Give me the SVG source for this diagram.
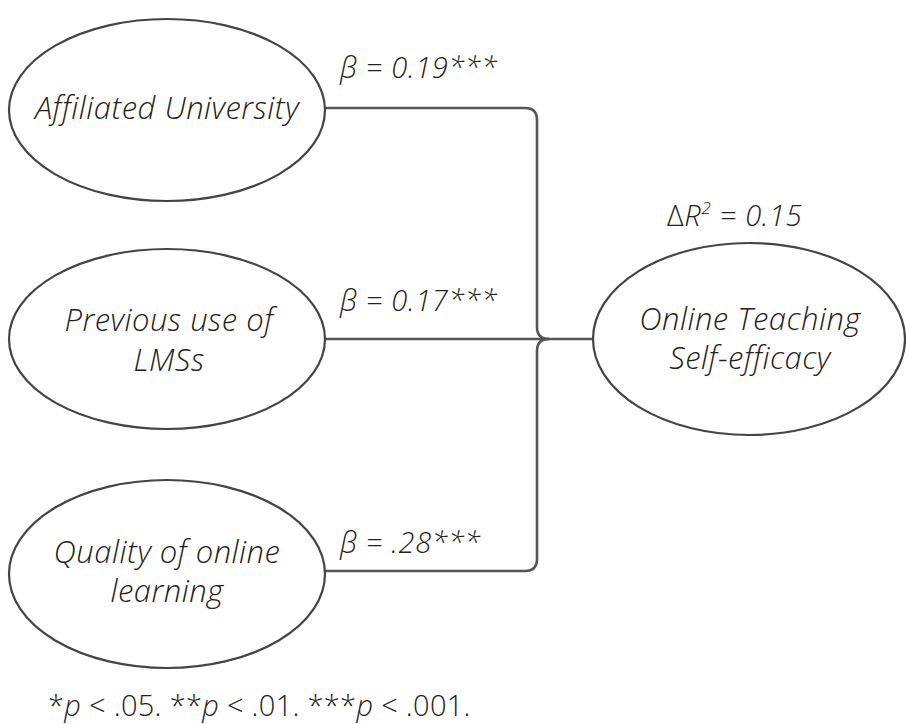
<svg xmlns="http://www.w3.org/2000/svg" width="906" height="724" viewBox="0 0 906 724">
<style>
.node ellipse{fill:#fff;stroke:#444;stroke-width:2.2}
.lbl{font-family:"Open Sans","Noto Sans","DejaVu Sans",sans-serif;font-style:italic;font-weight:300;font-size:31px;letter-spacing:0.5px;fill:#222;text-anchor:middle}
.coef{font-family:"Open Sans","Noto Sans","DejaVu Sans",sans-serif;font-style:italic;font-weight:300;font-size:29px;letter-spacing:0.7px;fill:#222}
.note{font-family:"Open Sans","Noto Sans","DejaVu Sans",sans-serif;font-weight:300;font-size:29px;letter-spacing:0.3px;fill:#222}
#connectors path{fill:none;stroke:#555;stroke-width:2.6}
</style>
<rect width="906" height="724" fill="#fff"/>
<g id="connectors">
<path d="M325 108 H525 Q537 108 537 120 V327 Q537 339 549 339"/>
<path d="M325 571 H525 Q537 571 537 559 V351 Q537 339 549 339"/>
<path d="M325 339 H594"/>
</g>
<g id="affiliated" class="node">
<ellipse cx="167" cy="110" rx="158" ry="91"/>
<text class="lbl" x="167" y="119">Affiliated University</text>
</g>
<g id="previous" class="node">
<ellipse cx="167" cy="339" rx="158" ry="90"/>
<text class="lbl" x="169" y="331">Previous use of</text>
<text class="lbl" x="169" y="371">LMSs</text>
</g>
<g id="quality" class="node">
<ellipse cx="167" cy="574" rx="158" ry="94"/>
<text class="lbl" x="167" y="563">Quality of online</text>
<text class="lbl" x="167" y="602">learning</text>
</g>
<g id="outcome" class="node">
<ellipse cx="749" cy="339" rx="156" ry="96"/>
<text class="lbl" x="750" y="330">Online Teaching</text>
<text class="lbl" x="750" y="369">Self-efficacy</text>
</g>
<g id="labels">
<text class="coef" x="340" y="78">β = 0.19***</text>
<text class="coef" x="340" y="311">β = 0.17***</text>
<text class="coef" x="340" y="553">β = .28***</text>
<text class="coef" x="667" y="226"><tspan font-style="normal">Δ</tspan>R<tspan font-size="17" dy="-12">2</tspan><tspan dy="12"> = 0.15</tspan></text>
<text class="note" x="48" y="716">*<tspan font-style="italic">p</tspan> &lt; .05. **<tspan font-style="italic">p</tspan> &lt; .01. ***<tspan font-style="italic">p</tspan> &lt; .001.</text>
</g>
</svg>
